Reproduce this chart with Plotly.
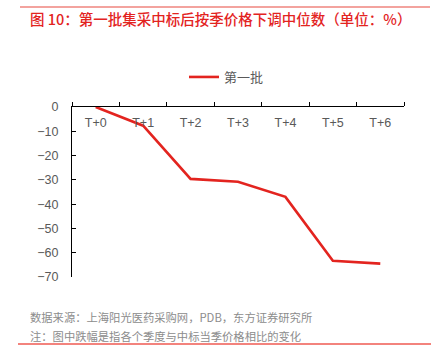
import plotly.graph_objects as go

categories = ["T+0", "T+1", "T+2", "T+3", "T+4", "T+5", "T+6"]
values = [0, -7.7, -29.6, -30.8, -37.0, -63.3, -64.5]
y_ticks = [0, -10, -20, -30, -40, -50, -60, -70]
series_name = "第一批"
title_text = "图 10：第一批集采中标后按季价格下调中位数（单位：%）"
source_text = "数据来源：上海阳光医药采购网，PDB，东方证券研究所"
note_text = "注：图中跌幅是指各个季度与中标当季价格相比的变化"

FONT = "Liberation Sans, Noto Sans CJK SC, sans-serif"
CJK = "Noto Sans CJK SC, sans-serif"
RED = "#e3241f"
GRAY = "#595959"

L, R, T, B = 72, 404, 107, 277
W, H = 434, 362

def px(x):
    return (x - L) / (R - L)

def py(y):
    return (B - y) / (B - T)

fig = go.Figure()
fig.add_trace(go.Scatter(
    x=categories, y=values, mode="lines", name=series_name,
    line=dict(color=RED, width=2.6),
))

fig.update_layout(
    width=W, height=H,
    margin=dict(l=L, r=W - R, t=T, b=H - B, pad=0, autoexpand=False),
    paper_bgcolor="white", plot_bgcolor="white",
    font=dict(family=FONT, size=12, color=GRAY),
    showlegend=True,
    legend=dict(
        orientation="h", x=px(184), xanchor="left", y=py(77), yanchor="middle",
        font=dict(family=CJK, size=13, color=GRAY), bgcolor="rgba(0,0,0,0)",
    ),
    xaxis=dict(
        type="category", side="top", ticklabelposition="inside",
        ticklabeloverflow="allow", automargin=False, ticklabelstandoff=11,
        showline=True, linecolor="#000000", linewidth=1,
        ticks="outside", ticklen=4, tickcolor="#000000", tickson="boundaries",
        showgrid=False, zeroline=False,
        tickfont=dict(family=FONT, size=12.5, color=GRAY),
        range=[-0.5, 6.5],
    ),
    yaxis=dict(
        range=[-70, 0], tickvals=y_ticks, automargin=False,
        ticklabeloverflow="allow",
        showline=True, linecolor="#000000", linewidth=1,
        ticks="inside", ticklen=4, tickcolor="#000000",
        showgrid=False, zeroline=False,
        tickfont=dict(family=FONT, size=12.5, color=GRAY),
        ticklabelstandoff=10,
    ),
)

fig.add_annotation(
    text=title_text, xref="paper", yref="paper",
    x=px(28), y=py(18), xanchor="left", yanchor="middle", showarrow=False,
    font=dict(family=CJK, size=14.5, color=RED, weight=500),
)
fig.add_annotation(
    text=source_text, xref="paper", yref="paper",
    x=px(28), y=py(317), xanchor="left", yanchor="middle", showarrow=False,
    font=dict(family=CJK, size=11.3, color="#8c8c8c"),
)
fig.add_annotation(
    text=note_text, xref="paper", yref="paper",
    x=px(28), y=py(336), xanchor="left", yanchor="middle", showarrow=False,
    font=dict(family=CJK, size=11.3, color="#8c8c8c"),
)
fig.add_shape(type="line", xref="paper", yref="paper",
              x0=px(20), x1=px(430), y0=py(7), y1=py(7),
              line=dict(color="#e8483f", width=1.2))
fig.add_shape(type="line", xref="paper", yref="paper",
              x0=px(18), x1=px(431), y0=py(344), y1=py(344),
              line=dict(color="#ef5a52", width=1.5))

fig.write_html("out.html", config={"displayModeBar": False},
               post_script="document.body.style.margin='0';document.body.style.overflow='hidden';")
